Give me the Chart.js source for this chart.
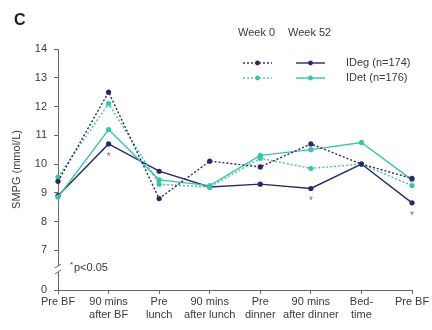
<!DOCTYPE html>
<html>
<head>
<meta charset="utf-8">
<script src="https://cdn.jsdelivr.net/npm/chart.js@4.4.1/dist/chart.umd.min.js"></script>
<style>
  html, body { margin: 0; padding: 0; background: #fff; }
  #wrap { width: 432px; height: 330px; }
</style>
</head>
<body>
<div id="wrap"><canvas id="c" width="432" height="330"></canvas></div>
<script>
// Time points of the 9-point self-measured plasma glucose profile
const timePoints = [
  ['Pre BF'], ['90 mins', 'after BF'], ['Pre', 'lunch'], ['90 mins', 'after lunch'],
  ['Pre', 'dinner'], ['90 mins', 'after dinner'], ['Bed-', 'time'], ['Pre BF']
];

// SMPG, mmol/L
const idegWeek0  = [9.4, 12.5, 8.8, 10.1, 9.9, 10.7, 10.0, 9.5];
const idegWeek52 = [8.9, 10.7, 9.75, 9.2, 9.3, 9.15, 10.0, 8.65];
const idetWeek0  = [9.55, 12.1, 9.3, 9.2, 10.2, 9.85, 10.0, 9.25];
const idetWeek52 = [8.85, 11.2, 9.45, 9.25, 10.3, 10.5, 10.75, 9.45];

// Time points where IDeg differs from IDet at week 52 (p<0.05)
const significantIdx = [1, 5, 7];

// Y axis: broken axis, 0 at the bottom then 7..14
const yTicks = [7, 8, 9, 10, 11, 12, 13, 14];
const yBreakLabel = '0';
const yAxisMin = 5.62;

const legendGroups = ['Week 0', 'Week 52'];
const legendSeries = ['IDeg (n=174)', 'IDet (n=176)'];

const NAVY = '#2c2868';
const TEAL = '#3ec4a5';
const TEXT = '#3a3a3a';
const AXIS = '#6a6a6a';
const FONT = "'Liberation Sans Narrow', 'Liberation Sans', Arial, sans-serif";

function series(label, data, color, dashed) {
  return {
    label, data,
    borderColor: color,
    backgroundColor: color,
    borderWidth: 1.4,
    borderDash: dashed ? [2, 2] : [],
    pointRadius: 2.6,
    pointBorderWidth: 0,
    pointBackgroundColor: color,
    tension: 0,
    fill: false
  };
}

const extras = {
  id: 'extras',
  afterDraw(chart) {
    const ctx = chart.ctx;
    const x = chart.scales.x, y = chart.scales.y;
    ctx.save();

    // Panel letter
    ctx.fillStyle = '#222';
    ctx.font = "bold 16px 'Liberation Sans', Arial, sans-serif";
    ctx.textAlign = 'left';
    ctx.textBaseline = 'middle';
    ctx.fillText('C', 14, 21);

    // Legend
    ctx.font = '11px ' + FONT;
    ctx.fillStyle = TEXT;
    ctx.textAlign = 'left';
    ctx.fillText(legendGroups[0], 238, 33);
    ctx.fillText(legendGroups[1], 288, 33);
    const rows = [[NAVY, 63, legendSeries[0]], [TEAL, 78, legendSeries[1]]];
    rows.forEach(([col, ry, txt]) => {
      [[243, 272, true], [296, 325, false]].forEach(([a, b, dashed]) => {
        ctx.strokeStyle = col;
        ctx.lineWidth = 1.4;
        ctx.setLineDash(dashed ? [2, 2] : []);
        ctx.beginPath(); ctx.moveTo(a, ry); ctx.lineTo(b, ry); ctx.stroke();
        ctx.setLineDash([]);
        ctx.fillStyle = col;
        ctx.beginPath(); ctx.arc((a + b) / 2, ry, 2.4, 0, Math.PI * 2); ctx.fill();
      });
      ctx.fillStyle = TEXT;
      ctx.fillText(txt, 346, ry);
    });

    // Significance markers below the IDeg week 52 points
    ctx.fillStyle = '#777';
    ctx.font = '10px ' + FONT;
    ctx.textAlign = 'center';
    significantIdx.forEach(i => {
      ctx.fillText('*', x.getPixelForValue(i), y.getPixelForValue(idegWeek52[i]) + 13);
    });

    // Axis break
    const bx = x.left, by = y.getPixelForValue(6.35);
    ctx.fillStyle = '#fff';
    ctx.fillRect(bx - 3, by - 3, 6, 6);
    ctx.strokeStyle = AXIS;
    ctx.lineWidth = 1;
    [-3, 3].forEach(d => {
      ctx.beginPath();
      ctx.moveTo(bx - 3, by + d + 2);
      ctx.lineTo(bx + 3, by + d - 2);
      ctx.stroke();
    });

    // Footnote
    ctx.fillStyle = TEXT;
    ctx.textAlign = 'left';
    ctx.font = '8px ' + FONT;
    ctx.fillText('*', 70, 265);
    ctx.font = '11px ' + FONT;
    ctx.fillText('p<0.05', 74, 268);

    ctx.restore();
  }
};

new Chart(document.getElementById('c'), {
  type: 'line',
  data: {
    labels: timePoints,
    datasets: [
      series('IDeg Week 0', idegWeek0, NAVY, true),
      series('IDet Week 0', idetWeek0, TEAL, true),
      series('IDet Week 52', idetWeek52, TEAL, false),
      series('IDeg Week 52', idegWeek52, NAVY, false)
    ]
  },
  options: {
    responsive: false,
    devicePixelRatio: 1,
    animation: false,
    layout: { padding: { top: 49, right: 20, left: 0, bottom: 0 } },
    plugins: { legend: { display: false }, tooltip: { enabled: false } },
    scales: {
      x: {
        type: 'category',
        offset: false,
        grid: { display: true, drawOnChartArea: false, tickLength: 4, color: AXIS },
        border: { color: AXIS, width: 1 },
        ticks: {
          color: TEXT, padding: 1, maxRotation: 0, autoSkip: false,
          font: { family: FONT, size: 11, lineHeight: 1.2 }
        },
        afterFit(scale) { scale.height = 40; }
      },
      y: {
        min: yAxisMin, max: 14,
        grid: { display: true, drawOnChartArea: false, tickLength: 4, color: AXIS },
        border: { color: AXIS, width: 1 },
        afterBuildTicks(scale) {
          scale.ticks = [yAxisMin].concat(yTicks).map(v => ({ value: v }));
        },
        ticks: {
          color: TEXT, padding: 7,
          font: { family: FONT, size: 11 },
          callback: v => (v < yTicks[0] ? yBreakLabel : String(v))
        },
        title: {
          display: true, text: 'SMPG (mmol/L)', color: TEXT,
          font: { family: FONT, size: 11 }, padding: { top: 10, bottom: 0 }
        },
        afterFit(scale) { scale.width = 58; }
      }
    }
  },
  plugins: [extras]
});
</script>
</body>
</html>
